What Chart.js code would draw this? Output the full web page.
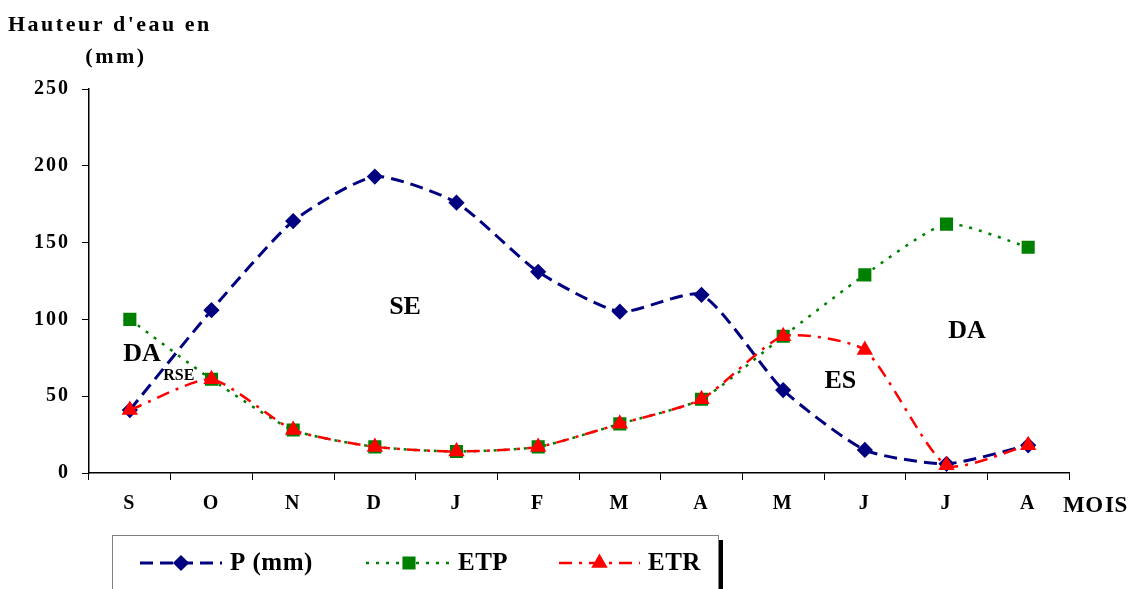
<!DOCTYPE html>
<html>
<head>
<meta charset="utf-8">
<script src="https://cdn.jsdelivr.net/npm/chart.js@4.4.1/dist/chart.umd.min.js"></script>
<style>
  html, body { margin: 0; padding: 0; background: #fff; }
  #wrap { width: 1148px; height: 589px; position: relative; }
</style>
</head>
<body>
<div id="wrap"><canvas id="c" width="1148" height="589"></canvas></div>
<script>
// Monthly categories (hydrological year, September to August)
const months = ['S', 'O', 'N', 'D', 'J', 'F', 'M', 'A', 'M', 'J', 'J', 'A'];
// Precipitation P (mm)
const precip = [41, 106, 164, 193, 176, 131, 105, 116, 54, 15, 6, 18];
// Potential evapotranspiration ETP (mm)
const etp = [100, 61, 28, 17, 14, 17, 32, 48, 89, 129, 162, 147];
// Real evapotranspiration ETR (mm)
const etr = [41, 61, 28, 17, 14, 17, 32, 48, 89, 80, 5, 18];
// Y axis ticks
const yTicks = [0, 50, 100, 150, 200, 250];

// Zone labels placed on the plot in data coordinates (category index, value)
const zones = [
  { text: 'DA', x: 0.15, y: 77, size: 26 },
  { text: 'RSE', x: 0.6, y: 63, size: 16 },
  { text: 'SE', x: 3.37, y: 108, size: 26 },
  { text: 'ES', x: 8.7, y: 60, size: 26 },
  { text: 'DA', x: 10.25, y: 92, size: 26 }
];

const SERIF = '"Liberation Serif", "Times New Roman", serif';

// Wider letter spacing for the axis tick labels
const tickSpacing = {
  id: 'tickSpacing',
  beforeDraw(chart) { chart.ctx.letterSpacing = '2px'; }
};

const annotations = {
  id: 'annotations',
  afterDraw(chart) {
    const ctx = chart.ctx;
    const xs = chart.scales.x, ys = chart.scales.y;
    ctx.save();
    ctx.fillStyle = '#000';
    // Axis title
    ctx.font = 'bold 22px ' + SERIF;
    ctx.letterSpacing = '2.5px';
    ctx.textAlign = 'left';
    ctx.textBaseline = 'middle';
    ctx.fillText("Hauteur d'eau en", 8, 25);
    ctx.textAlign = 'center';
    ctx.fillText('(mm)', 116, 57);
    // X axis title
    ctx.font = 'bold 23px ' + SERIF;
    ctx.letterSpacing = '0.5px';
    ctx.textAlign = 'left';
    ctx.fillText('MO', 1063, 506);
    ctx.fillText('IS', 1105, 506);
    // Zone labels
    ctx.letterSpacing = '0px';
    ctx.textAlign = 'center';
    zones.forEach(z => {
      ctx.font = 'bold ' + z.size + 'px ' + SERIF;
      ctx.fillText(z.text, xs.getPixelForValue(z.x), ys.getPixelForValue(z.y));
    });

    // Legend box
    const bx = 112, by = 535, bw = 606;
    ctx.fillStyle = '#000';
    ctx.fillRect(bx + bw, by + 5, 5, 589 - by - 5);
    ctx.strokeStyle = '#808080';
    ctx.lineWidth = 1;
    ctx.strokeRect(bx + 0.5, by + 0.5, bw, 80);

    const items = [
      { ds: 0, x0: 140, x1: 222, label: 'P (mm)', tx: 230 },
      { ds: 1, x0: 366, x1: 452, label: 'ETP', tx: 458 },
      { ds: 2, x0: 559, x1: 640, label: 'ETR', tx: 648 }
    ];
    const ly = 563;
    items.forEach(it => {
      const d = chart.data.datasets[it.ds];
      ctx.save();
      ctx.strokeStyle = d.borderColor;
      ctx.lineWidth = d.borderWidth;
      ctx.setLineDash(d.borderDash);
      ctx.beginPath();
      ctx.moveTo(it.x0, ly);
      ctx.lineTo(it.x1, ly);
      ctx.stroke();
      ctx.setLineDash([]);
      ctx.fillStyle = d.pointBackgroundColor;
      ctx.strokeStyle = d.pointBorderColor;
      Chart.helpers.drawPoint(ctx, {
        pointStyle: d.pointStyle, radius: d.pointRadius, borderWidth: 1, rotation: 0
      }, (it.x0 + it.x1) / 2, ly);
      ctx.restore();
      ctx.fillStyle = '#000';
      ctx.font = 'bold 25px ' + SERIF;
      ctx.letterSpacing = '0.5px';
      ctx.textAlign = 'left';
      ctx.textBaseline = 'middle';
      ctx.fillText(it.label, it.tx, ly + 1);
    });
    ctx.restore();
  }
};

new Chart(document.getElementById('c'), {
  type: 'line',
  data: {
    labels: months,
    datasets: [
      {
        label: 'P (mm)', data: precip, order: 2,
        borderColor: '#000080', borderWidth: 3, borderDash: [13, 7],
        pointStyle: 'rectRot', pointRadius: 6,
        pointBackgroundColor: '#000080', pointBorderColor: '#000080',
        tension: 0.2, fill: false
      },
      {
        label: 'ETP', data: etp, order: 1,
        borderColor: '#008000', borderWidth: 2.5, borderDash: [3, 7],
        pointStyle: 'rect', pointRadius: 7.5,
        pointBackgroundColor: '#008000', pointBorderColor: '#008000',
        tension: 0.2, fill: false
      },
      {
        label: 'ETR', data: etr, order: 0,
        borderColor: '#ff0000', borderWidth: 2.5, borderDash: [13, 7, 3, 7],
        pointStyle: 'triangle', pointRadius: 7,
        pointBackgroundColor: '#ff0000', pointBorderColor: '#ff0000',
        tension: 0.2, fill: false
      }
    ]
  },
  options: {
    responsive: false,
    animation: false,
    devicePixelRatio: 1,
    clip: false,
    layout: { padding: { top: 89, right: 79, bottom: 0, left: 0 } },
    plugins: { legend: { display: false }, tooltip: { enabled: false }, title: { display: false } },
    scales: {
      x: {
        type: 'category',
        offset: true,
        afterFit(s) { s.height = 116; },
        grid: { display: true, drawOnChartArea: false, offset: true, tickLength: 7, color: '#000', lineWidth: 1 },
        border: { display: true, color: '#000', width: 1.5 },
        ticks: {
          color: '#000', padding: 12, maxRotation: 0, autoSkip: false,
          font: { family: SERIF, size: 20, weight: 'bold' }
        }
      },
      y: {
        min: 0, max: 250,
        afterFit(s) { s.width = 89; },
        afterBuildTicks(s) { s.ticks = yTicks.map(v => ({ value: v })); },
        grid: { display: true, drawOnChartArea: false, tickLength: 7, color: '#000', lineWidth: 1 },
        border: { display: true, color: '#000', width: 1.5 },
        ticks: {
          color: '#000', padding: 12,
          font: { family: SERIF, size: 20, weight: 'bold' }
        }
      }
    }
  },
  plugins: [tickSpacing, annotations]
});
</script>
</body>
</html>
